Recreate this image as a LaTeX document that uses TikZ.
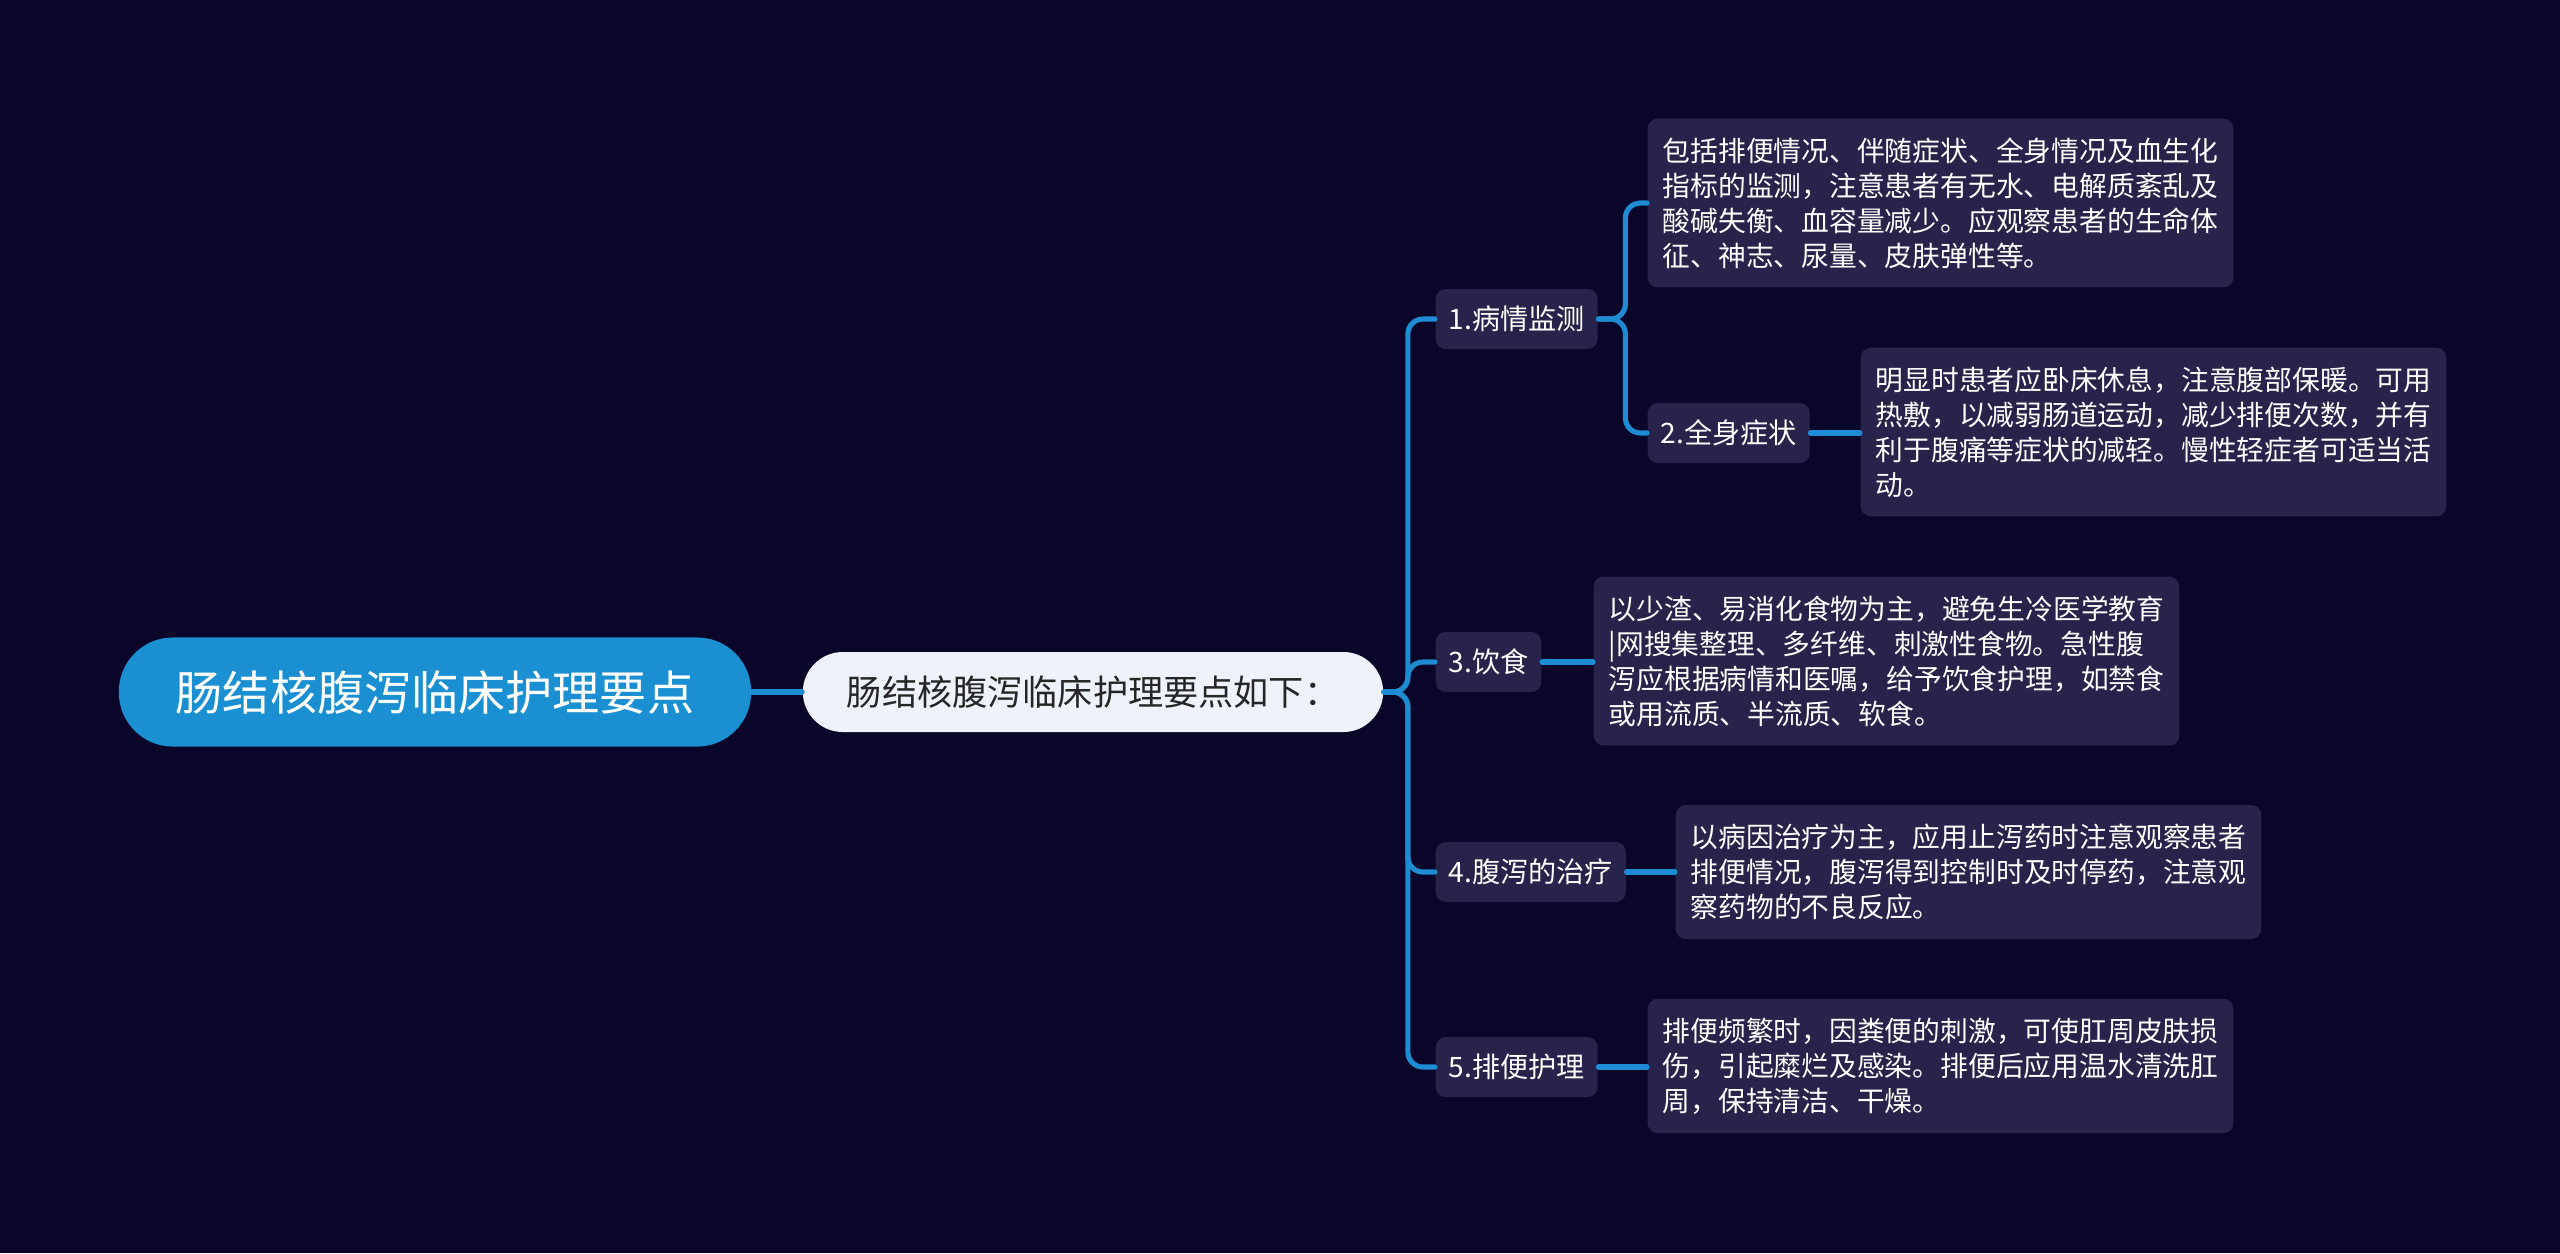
\documentclass[tikz,border=0pt]{standalone}
\usepackage{fontspec}
\setmainfont{Noto Sans CJK SC}
\usetikzlibrary{positioning}
\definecolor{bgc}{HTML}{0A0629}
\definecolor{cardc}{HTML}{27234A}
\definecolor{topicc}{HTML}{1A8FD2}
\definecolor{subc}{HTML}{EEF3FB}
\definecolor{linkc}{HTML}{1D8CD3}
\begin{document}
\begin{tikzpicture}[x=0.01cm, y=-0.01cm, line cap=round, line join=round,
	branch/.style={draw=linkc, line width=1.45pt, rounded corners=0.15cm},
	topic/.style={fill=topicc, text=white, rounded corners=0.54cm, minimum width=6.32cm, minimum height=1.09cm, font=\fontsize{13.4}{16}\selectfont},
	subtopic/.style={fill=subc, text=black!85, rounded corners=0.4cm, minimum width=5.8cm, minimum height=0.8cm, font=\fontsize{10}{12}\selectfont},
	label/.style={fill=cardc, text=white, rounded corners=0.1cm, inner xsep=0.13cm, minimum height=0.6cm, anchor=west, font=\fontsize{8}{10}\selectfont},
	card/.style={fill=cardc, text=white, rounded corners=0.1cm, inner xsep=0.15cm, inner ysep=0.19cm, align=left, anchor=west, font=\fontsize{7.9}{9.95}\selectfont}]
	\fill[bgc](0,0)rectangle(2560,1253);
	\useasboundingbox(0,0)rectangle(2560,1253);
	\node[topic](root)at(435,692){肠结核腹泻临床护理要点};
	\node[subtopic](sub)at(1093,692){肠结核腹泻临床护理要点如下：};
	\path
	(1435,319)node[label](c1){1.病情监测}
	(1647,433)node[label](c2){2.全身症状}
	(1435,662)node[label](c3){3.饮食}
	(1435,872)node[label](c4){4.腹泻的治疗}
	(1435,1067)node[label](c5){5.排便护理}
	;
	\path
	(1647,203)node[card](d1){包括排便情况、伴随症状、全身情况及血生化\\指标的监测，注意患者有无水、电解质紊乱及\\酸碱失衡、血容量减少。应观察患者的生命体\\征、神志、尿量、皮肤弹性等。}
	(1860,432)node[card](d2){明显时患者应卧床休息，注意腹部保暖。可用\\热敷，以减弱肠道运动，减少排便次数，并有\\利于腹痛等症状的减轻。慢性轻症者可适当活\\动。}
	(1593,661)node[card](d3){以少渣、易消化食物为主，避免生冷医学教育\\|网搜集整理、多纤维、刺激性食物。急性腹\\泻应根据病情和医嘱，给予饮食护理，如禁食\\或用流质、半流质、软食。}
	(1675,872)node[card](d4){以病因治疗为主，应用止泻药时注意观察患者\\排便情况，腹泻得到控制时及时停药，注意观\\察药物的不良反应。}
	(1647,1066)node[card](d5){排便频繁时，因粪便的刺激，可使肛周皮肤损\\伤，引起糜烂及感染。排便后应用温水清洗肛\\周，保持清洁、干燥。}
	;
	\draw[branch](root.east)--(sub.west);
	\foreach \c in {c1,c3,c4,c5}
		\draw[branch](sub.east)--++(24,0)|-(\c.west);
	\draw[branch](c1.east)--++(27,0)|-(d1.west);
	\draw[branch](c1.east)--++(27,0)|-(c2.west);
	\draw[branch](c2.east)--(c2.east-|d2.west);
	\draw[branch](c3.east)--(c3.east-|d3.west);
	\draw[branch](c4.east)--(c4.east-|d4.west);
	\draw[branch](c5.east)--(c5.east-|d5.west);
\end{tikzpicture}
\end{document}
